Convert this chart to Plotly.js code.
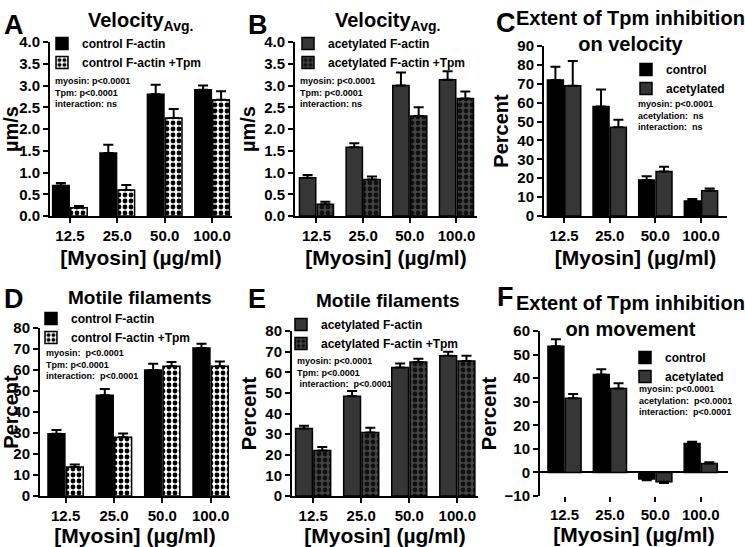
<!DOCTYPE html>
<html><head><meta charset="utf-8">
<script src="https://cdn.plot.ly/plotly-3.0.1.min.js"></script>
<style>html,body{margin:0;padding:0;background:#fff}</style>
</head><body><div id="chart" style="width:745px;height:547px"></div>
<script>
// ---------- data ----------
const cats = ['12.5', '25.0', '50.0', '100.0'];
// A: velocity, control F-actin
const velCtrl = [0.70, 1.45, 2.80, 2.90];
const velCtrlErr = [0.06, 0.19, 0.22, 0.10];
const velCtrlTpm = [0.19, 0.60, 2.25, 2.67];
const velCtrlTpmErr = [0.04, 0.11, 0.21, 0.20];
// B: velocity, acetylated F-actin
const velAcet = [0.88, 1.58, 3.00, 3.13];
const velAcetErr = [0.06, 0.09, 0.30, 0.20];
const velAcetTpm = [0.27, 0.84, 2.30, 2.70];
const velAcetTpmErr = [0.06, 0.07, 0.20, 0.16];
// C: extent of Tpm inhibition on velocity
const inhVelCtrl = [72, 58, 19, 8];
const inhVelCtrlErr = [7, 9, 2, 1];
const inhVelAcet = [69, 47, 23.5, 13.4];
const inhVelAcetErr = [13, 4, 2.6, 1.2];
// D: motile filaments, control
const motCtrl = [29.6, 48, 60, 70.5];
const motCtrlErr = [1.8, 3, 3, 2];
const motCtrlTpm = [13.8, 28, 61.8, 61.8];
const motCtrlTpmErr = [1.2, 1.8, 2, 2.3];
// E: motile filaments, acetylated
const motAcet = [32.7, 48.4, 62.3, 68];
const motAcetErr = [1.3, 2.5, 2, 1.9];
const motAcetTpm = [22.1, 30.8, 65, 65.5];
const motAcetTpmErr = [1.6, 2.3, 1.6, 2.5];
// F: extent of Tpm inhibition on movement
const inhMovCtrl = [53.5, 41.5, -2.8, 12.3];
const inhMovCtrlErr = [3, 2.3, 0.5, 0.7];
const inhMovAcet = [31.5, 35.6, -4, 3.8];
const inhMovAcetErr = [1.8, 2.2, 0.5, 0.5];

const statsA = 'myosin: p&lt;0.0001<br>Tpm: p&lt;0.0001<br>interaction: ns';
const statsB = 'myosin: p&lt;0.0001<br>Tpm: p&lt;0.0001<br>interaction: ns';
const statsC = 'myosin: p&lt;0.0001<br>acetylation:  ns<br>interaction:  ns';
const statsD = 'myosin:  p&lt;0.0001<br>Tpm: p&lt;0.0001<br>interaction:  p&lt;0.0001';
const statsE = 'myosin: p&lt;0.0001<br>Tpm: p&lt;0.0001<br> interaction:  p&lt;0.0001';
const statsF = 'myosin: p&lt;0.0001<br>acetylation:  p&lt;0.0001<br>interaction:  p&lt;0.0001';

// ---------- style ----------
const FF = 'Liberation Sans, Arial, Helvetica, sans-serif';
const W = 745, H = 547;
const fx = p => p / W;
const fy = p => 1 - p / H;
const font = (s) => ({family: FF, size: s, color: '#000', weight: 700});
const BLACK = '#000000', GREY = '#363636';

function errs(vals, e) {
  return {
    type: 'data', symmetric: false,
    array: vals.map((v, i) => v >= 0 ? e[i] : 0),
    arrayminus: vals.map((v, i) => v < 0 ? e[i] : 0),
    color: '#000', thickness: 2, width: 5
  };
}
function bar(name, vals, e, xa, ya, leg, fill, pattern) {
  const m = {color: fill, line: {color: '#000', width: 1.5}};
  if (pattern) m.pattern = pattern;
  return {type: 'bar', name, x: cats, y: vals, xaxis: xa, yaxis: ya, legend: leg,
    marker: m, error_y: errs(vals, e), hoverinfo: 'skip'};
}
const checkW = {shape: '.', fgcolor: '#000', bgcolor: '#fff', size: 6, solidity: 0.5, fillmode: 'replace'};
const checkG = {shape: '.', fgcolor: '#111', bgcolor: '#444', size: 6, solidity: 0.5, fillmode: 'replace'};

const traces = [
  bar('control F-actin', velCtrl, velCtrlErr, 'x', 'y', 'legend', BLACK),
  bar('control F-actin +Tpm', velCtrlTpm, velCtrlTpmErr, 'x', 'y', 'legend', '#fff', checkW),
  bar('acetylated F-actin', velAcet, velAcetErr, 'x2', 'y2', 'legend2', GREY),
  bar('acetylated F-actin +Tpm', velAcetTpm, velAcetTpmErr, 'x2', 'y2', 'legend2', '#444', checkG),
  bar('control', inhVelCtrl, inhVelCtrlErr, 'x3', 'y3', 'legend3', BLACK),
  bar('acetylated', inhVelAcet, inhVelAcetErr, 'x3', 'y3', 'legend3', GREY),
  bar('control F-actin', motCtrl, motCtrlErr, 'x4', 'y4', 'legend4', BLACK),
  bar('control F-actin +Tpm', motCtrlTpm, motCtrlTpmErr, 'x4', 'y4', 'legend4', '#fff', checkW),
  bar('acetylated F-actin', motAcet, motAcetErr, 'x5', 'y5', 'legend5', GREY),
  bar('acetylated F-actin +Tpm', motAcetTpm, motAcetTpmErr, 'x5', 'y5', 'legend5', '#444', checkG),
  bar('control', inhMovCtrl, inhMovCtrlErr, 'x6', 'y6', 'legend6', BLACK),
  bar('acetylated', inhMovAcet, inhMovAcetErr, 'x6', 'y6', 'legend6', GREY)
];

function xax(d, range, anchor, showline, standoff) {
  return {domain: [fx(d[0]), fx(d[1])], range: range, type: 'category', anchor: anchor,
    showline: showline, linecolor: '#000', linewidth: 2, ticks: 'outside', ticklen: 5,
    tickwidth: 2, tickcolor: '#000', tickfont: font(15), showgrid: false, zeroline: false,
    fixedrange: true, title: {text: '[Myosin] (µg/ml)', font: font(21), standoff: standoff}};
}
function yax(d, range, dtick, fmt, anchor, title, zl) {
  return {domain: [fy(d[1]), fy(d[0])], range: range, dtick: dtick, tick0: 0, tickformat: fmt,
    anchor: anchor, showline: true, linecolor: '#000', linewidth: 2, ticks: 'outside',
    ticklen: 5, tickwidth: 2, tickcolor: '#000', tickfont: font(15), showgrid: false,
    zeroline: !!zl, zerolinecolor: '#000', zerolinewidth: 2, fixedrange: true,
    title: {text: title, font: font(20), standoff: 3}};
}
function leg(xp, yp, s) {
  return {x: fx(xp), y: fy(yp), xanchor: 'left', yanchor: 'top', xref: 'paper', yref: 'paper',
    bgcolor: 'rgba(0,0,0,0)', font: font(s || 12), borderwidth: 0, tracegroupgap: 0};
}
function ann(text, xp, yp, s, xa, ya, extra) {
  return Object.assign({text: text, x: fx(xp), y: fy(yp), xref: 'paper', yref: 'paper',
    xanchor: xa || 'left', yanchor: ya || 'top', showarrow: false, align: 'left', font: font(s)}, extra || {});
}

const layout = {
  width: W, height: H, margin: {l: 0, r: 0, t: 0, b: 0},
  paper_bgcolor: '#fff', plot_bgcolor: 'rgba(0,0,0,0)',
  font: font(12), barmode: 'group', bargap: 0.24, bargroupgap: 0.08,
  xaxis: xax([50, 232], [-0.42, 3.42], 'y', true, 7),
  yaxis: yax([42, 216], [0, 4], 0.5, '.1f', 'x', 'µm/s'),
  xaxis2: xax([295, 477], [-0.46, 3.44], 'y2', true, 7),
  yaxis2: yax([42, 216], [0, 4], 0.5, '.1f', 'x2', 'µm/s'),
  xaxis3: xax([544, 727], [-0.44, 3.57], 'y3', true, 7),
  yaxis3: yax([46, 216], [0, 90], 10, 'd', 'x3', 'Percent'),
  xaxis4: xax([40, 230], [-0.53, 3.4], 'y4', true, 5),
  yaxis4: yax([328, 496], [0, 80], 10, 'd', 'x4', 'Percent'),
  xaxis5: xax([292, 478], [-0.44, 3.43], 'y5', true, 5),
  yaxis5: yax([331, 496], [0, 80], 10, 'd', 'x5', 'Percent'),
  xaxis6: xax([540, 728], [-0.54, 3.6], 'y6', false, 5),
  yaxis6: yax([331, 496], [-10, 60], 10, 'd', 'x6', 'Percent', true),
  legend: leg(42, 29), legend2: leg(288, 29), legend3: leg(626, 55),
  legend4: leg(31, 304), legend5: leg(281, 310), legend6: leg(625, 343),
  annotations: [
    ann('A', 2, 8, 27), ann('B', 246, 8, 27), ann('C', 494, 6, 27),
    ann('D', 2, 282, 27), ann('E', 246, 282, 27), ann('F', 495, 280, 27),
    ann('Velocity<sub>Avg.</sub>', 140, 22, 20, 'center', 'middle'),
    ann('Velocity<sub>Avg.</sub>', 387, 22, 20, 'center', 'middle'),
    ann('Extent of Tpm inhibition<br>on velocity', 630, 31, 20, 'center', 'middle', {align: 'center'}),
    ann('Motile filaments', 140, 298, 19, 'center', 'middle'),
    ann('Motile filaments', 388, 300, 19, 'center', 'middle'),
    ann('Extent of Tpm inhibition<br>on movement', 630, 316, 20, 'center', 'middle', {align: 'center'}),
    ann(statsA, 53, 74, 9), ann(statsB, 298, 74, 9), ann(statsC, 636, 97, 9),
    ann(statsD, 44, 346, 9), ann(statsE, 295, 354, 9), ann(statsF, 637, 382, 9)
  ]
};

Plotly.newPlot('chart', traces, layout, {staticPlot: true, displayModeBar: false});
</script></body></html>
